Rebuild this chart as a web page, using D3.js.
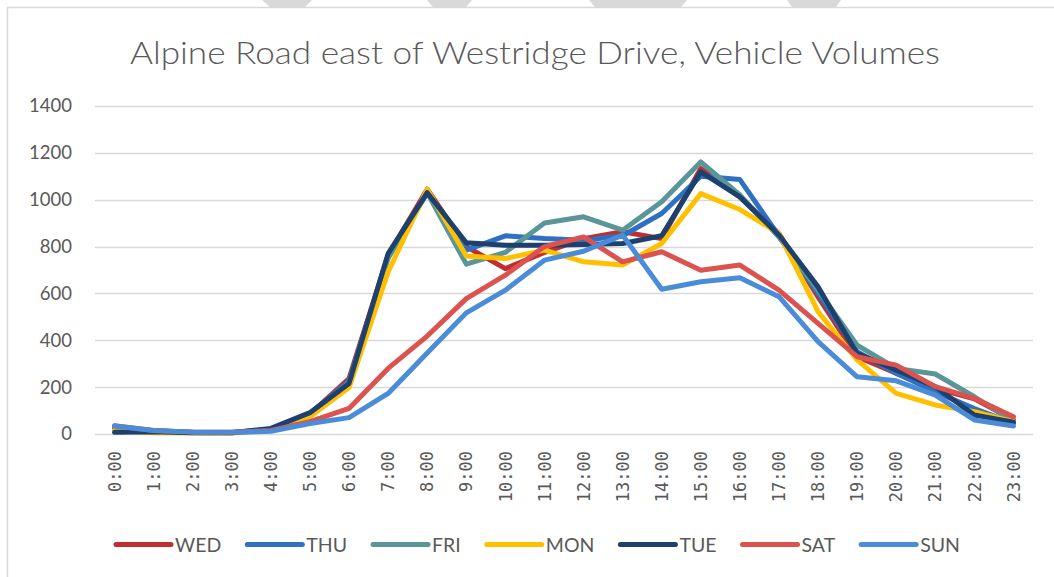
<!DOCTYPE html>
<html>
<head>
<meta charset="utf-8">
<script src="https://cdn.jsdelivr.net/npm/d3@7"></script>
<style>
body{margin:0;background:white;}
svg{display:block;}
</style>
</head>
<body>
<svg id="chart"></svg>
<script>
var title = "Alpine Road east of Westridge Drive, Vehicle Volumes"
var hours = ["0:00","1:00","2:00","3:00","4:00","5:00","6:00","7:00","8:00","9:00","10:00","11:00",
             "12:00","13:00","14:00","15:00","16:00","17:00","18:00","19:00","20:00","21:00","22:00","23:00"]
var yTicks = [0,200,400,600,800,1000,1200,1400]
var dayNames = ["WED","THU","FRI","MON","TUE","SAT","SUN"]
var WED = [25,12,6,5,18,85,237,763,1045,800,706,775,834,863,834,1133,1012,855,585,330,259,195,150,60]
var THU = [30,14,7,6,20,88,225,755,1030,785,846,834,827,846,941,1100,1086,845,600,351,259,180,109,45]
var FRI = [28,14,6,6,18,81,220,750,1030,725,775,901,927,870,991,1161,1020,841,614,379,280,256,159,55]
var MON = [14,5,4,4,16,74,198,692,1045,760,749,785,735,721,813,1026,958,856,522,316,173,124,95,53]
var TUE = [7,10,5,5,24,91,216,770,1030,816,806,806,809,813,846,1119,1012,849,628,344,273,202,81,50]
var SAT = [35,15,8,7,15,53,109,280,418,578,678,800,841,735,778,699,721,614,472,330,294,202,152,74]
var SUN = [34,15,8,7,12,45,70,173,346,517,614,742,780,849,618,650,667,586,394,244,227,166,60,34]
var dayColors = ["#BF2F2F","#2F70C2","#5A9699","#FFC000","#1C416F","#DB524F","#4A8CD8"]

var series = [WED,THU,FRI,MON,TUE,SAT,SUN].map(function(vals,i){
    return {name:dayNames[i],color:dayColors[i],values:vals}
})

var screen = {width:1054,height:577}
var margins = {left:95,right:21,top:106,bottom:143}

var svg = d3.select("#chart")
    .attr("width",screen.width)
    .attr("height",screen.height)

//light watermark bits above the chart frame
var marks = [[262,312,270,305],[427,472,433,466],[589,687,595,681],[787,841,792,836]]
svg.selectAll("polygon.wm")
    .data(marks)
    .enter()
    .append("polygon")
    .classed("wm",true)
    .attr("points",function(m){
        return m[0]+",0 "+m[1]+",0 "+m[3]+",7 "+m[2]+",7"
    })
    .attr("fill","#d9d9d9")

//chart frame
svg.append("rect")
    .attr("x",7.5).attr("y",7.5)
    .attr("width",1100).attr("height",650)
    .attr("fill","white")
    .attr("stroke","#d9d9d9")
    .attr("stroke-width",1.5)

var xScale = d3.scaleBand()
    .domain(hours)
    .range([margins.left,screen.width-margins.right])
var yScale = d3.scaleLinear()
    .domain([0,1400])
    .range([screen.height-margins.bottom,margins.top])

//gridlines
svg.append("g")
    .selectAll("line")
    .data(yTicks)
    .enter()
    .append("line")
    .attr("x1",margins.left)
    .attr("x2",screen.width-margins.right)
    .attr("y1",function(d){return Math.round(yScale(d))+0.5})
    .attr("y2",function(d){return Math.round(yScale(d))+0.5})
    .attr("stroke","#d9d9d9")
    .attr("stroke-width",1.3)

//y labels
svg.append("g")
    .selectAll("text")
    .data(yTicks)
    .enter()
    .append("text")
    .text(function(d){return d})
    .attr("x",72)
    .attr("y",function(d){return yScale(d)})
    .attr("dy","0.35em")
    .attr("text-anchor","end")
    .attr("font-family","Lato, 'Open Sans', sans-serif")
    .attr("font-size",18.5)
    .attr("fill","#595959")

//x labels
svg.append("g")
    .selectAll("text")
    .data(hours)
    .enter()
    .append("text")
    .text(function(d){return d})
    .attr("transform",function(d){
        return "translate("+(xScale(d)+xScale.bandwidth()/2)+",451) rotate(-90)"
    })
    .attr("dy","0.36em")
    .attr("text-anchor","end")
    .attr("font-family","'DejaVu Sans Mono', monospace")
    .attr("font-size",17)
    .attr("fill","#595959")

//lines
var line = d3.line()
    .x(function(d,i){return xScale(hours[i])+xScale.bandwidth()/2})
    .y(function(d){return yScale(d)})

svg.append("g")
    .selectAll("path")
    .data(series)
    .enter()
    .append("path")
    .attr("d",function(s){return line(s.values)})
    .attr("fill","none")
    .attr("stroke",function(s){return s.color})
    .attr("stroke-width",5)
    .attr("stroke-linejoin","round")
    .attr("stroke-linecap","round")

//title
svg.append("text")
    .text(title)
    .attr("x",535)
    .attr("y",64)
    .attr("text-anchor","middle")
    .attr("font-family","Lato, 'Open Sans', sans-serif")
    .attr("font-weight",300)
    .attr("font-size",32)
    .attr("textLength",810)
    .attr("lengthAdjust","spacingAndGlyphs")
    .attr("fill","#595959")

//legend
var legend = svg.append("g")
var entries = legend.selectAll("g")
    .data(series)
    .enter()
    .append("g")
entries.append("line")
    .attr("x1",0).attr("x2",55)
    .attr("y1",0).attr("y2",0)
    .attr("stroke",function(s){return s.color})
    .attr("stroke-width",5)
    .attr("stroke-linecap","round")
entries.append("text")
    .text(function(s){return s.name})
    .attr("x",59)
    .attr("dy","0.36em")
    .attr("font-family","Lato, 'Open Sans', sans-serif")
    .attr("font-size",19.5)
    .attr("fill","#595959")

var pos = 0
entries.each(function(){
    var g = d3.select(this)
    var w = g.select("text").node().getComputedTextLength()
    g.attr("data-x",pos)
    pos += 59+w+26
})
var total = pos-26
var start = 538-total/2
entries.attr("transform",function(){
    return "translate("+(start+ +d3.select(this).attr("data-x"))+",544.5)"
})
</script>
</body>
</html>
